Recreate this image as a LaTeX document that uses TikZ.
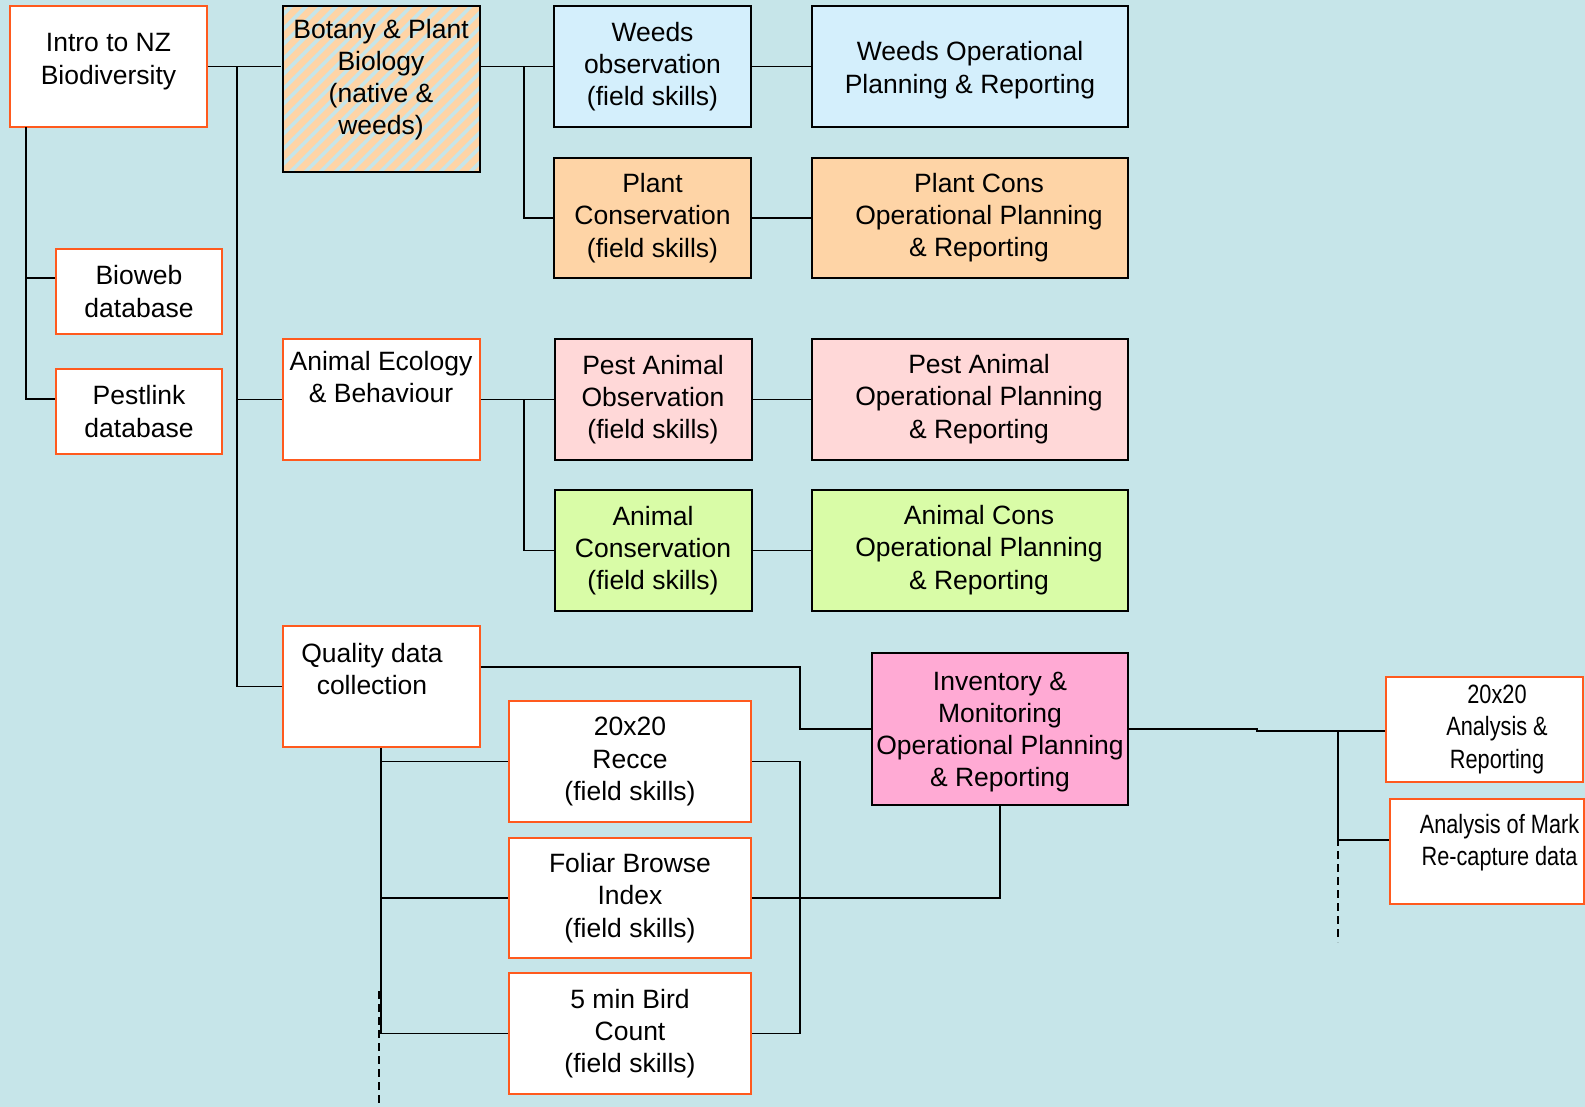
\documentclass[tikz,border=0pt]{standalone}
\usepackage{fontspec}
\setmainfont{Liberation Sans}
\newfontfamily\narrowfont[FakeStretch=0.82]{Liberation Sans}
\usetikzlibrary{patterns.meta}

\definecolor{backdrop}{HTML}{C6E5E9}
\definecolor{edgeorange}{HTML}{FF5A1E}
\definecolor{weedsfill}{HTML}{D4EFFC}
\definecolor{plantfill}{HTML}{FED4A6}
\definecolor{pestfill}{HTML}{FFD8D8}
\definecolor{animalfill}{HTML}{D9FCA7}
\definecolor{inventoryfill}{HTML}{FFAAD4}

% left pad, right pad, extra top, extra bottom, text
\newcommand{\placed}[5]{\begin{tabular}{@{\hspace{#1}}c@{\hspace{#2}}}%
  \rule{0pt}{\dimexpr\ht\strutbox+#3\relax}#5\\[#4]\end{tabular}}

\begin{document}
\begin{tikzpicture}[x=0.5pt, y=-0.5pt]
      \tikzstyle{box} = [
        rectangle,
        draw,
        line width=1pt,
        align=center,
        inner sep=0pt,
        minimum width=98.5pt,
        minimum height=60.5pt,
        font=\fontsize{13.25}{16.15}\selectfont
      ]

      \tikzstyle{plain} = [
        box,
        draw=edgeorange,
        fill=white
      ]

      \tikzstyle{narrow} = [
        plain,
        minimum height=52.5pt,
        font=\narrowfont\fontsize{13.25}{16.15}\selectfont
      ]

      \tikzstyle{hatched} = [
        box,
        preaction={fill=plantfill},
        pattern={Lines[angle=45, distance=5.3pt, line width=1.8pt]},
        pattern color=backdrop
      ]

      \tikzstyle{weeds} = [box, fill=weedsfill]
      \tikzstyle{plant} = [box, fill=plantfill]
      \tikzstyle{pest} = [box, fill=pestfill]
      \tikzstyle{animal} = [box, fill=animalfill]

      \tikzstyle{inventory} = [
        box,
        fill=inventoryfill,
        minimum width=128pt,
        minimum height=76pt
      ]

      \tikzstyle{link} = [line width=0.75pt]
      \tikzstyle{loose} = [link, dash pattern=on 4pt off 2.5pt]

      \useasboundingbox (0,0) rectangle (1585,1107);
      \fill[backdrop] (0,0) rectangle (1585,1107);

      \node[plain] (intro) at (108.5,66.5) {\placed{0pt}{0pt}{0pt}{5pt}{Intro to NZ\\Biodiversity}};
      \node[hatched, minimum height=83pt] (botany) at (381,89)
        {\placed{0pt}{0pt}{0pt}{9pt}{Botany \& Plant\\Biology\\(native \&\\weeds)}};
      \node[weeds] (weedsobs) at (652.5,66.5) {Weeds\\observation\\(field skills)};
      \node[weeds, minimum width=158pt] (weedsops) at (970,66.5)
        {\placed{0pt}{0pt}{4pt}{0pt}{Weeds Operational\\Planning \& Reporting}};
      \node[plant, minimum height=60pt] (plantcons) at (652.5,218)
        {Plant\\Conservation\\(field skills)};
      \node[plant, minimum width=158pt, minimum height=60pt] (plantops) at (970,218)
        {\placed{9pt}{0pt}{0pt}{0pt}{Plant Cons\\Operational Planning\\\& Reporting}};
      \node[plain, minimum width=83pt, minimum height=42.5pt] (bioweb) at (139,291.5)
        {Bioweb\\database};
      \node[plain, minimum width=83pt, minimum height=42.5pt] (pestlink) at (139,411.5)
        {Pestlink\\database};
      \node[plain] (ecology) at (381,399.5)
        {\placed{0pt}{0pt}{0pt}{19.5pt}{Animal Ecology\\\& Behaviour}};
      \node[pest] (pestobs) at (653,399.5) {Pest Animal\\Observation\\(field skills)};
      \node[pest, minimum width=158pt] (pestops) at (970,399.5)
        {\placed{9pt}{0pt}{0pt}{0pt}{Pest Animal\\Operational Planning\\\& Reporting}};
      \node[animal] (animcons) at (653,550.5) {Animal\\Conservation\\(field skills)};
      \node[animal, minimum width=158pt] (animops) at (970,550.5)
        {\placed{9pt}{0pt}{0pt}{0pt}{Animal Cons\\Operational Planning\\\& Reporting}};
      \node[plain] (quality) at (381,686.5)
        {\placed{0pt}{9pt}{0pt}{14.5pt}{Quality data\\collection}};
      \node[plain, minimum width=121pt] (recce) at (630,761.5) {20x20\\Recce\\(field skills)};
      \node[plain, minimum width=121pt, minimum height=60pt] (foliar) at (630,898)
        {Foliar Browse\\Index\\(field skills)};
      \node[plain, minimum width=121pt] (bird) at (630,1033.5) {5 min Bird\\Count\\(field skills)};
      \node[inventory] (inventory) at (1000,729)
        {\placed{0pt}{0pt}{3pt}{0pt}{Inventory \&\\Monitoring\\Operational Planning\\\& Reporting}};
      \node[narrow] (analysis) at (1484.5,729.5)
        {\placed{12.5pt}{0pt}{0pt}{0pt}{20x20\\Analysis \&\\Reporting}};
      \node[narrow, minimum width=97pt] (recapture) at (1487,851.5)
        {\placed{12.5pt}{0pt}{0pt}{8.5pt}{Analysis of Mark\\Re-capture data}};

      \coordinate (trunk) at (237,66.5);
      \coordinate (dbtrunk) at (26,127);
      \coordinate (botfork) at (524,66.5);
      \coordinate (ecofork) at (524,399.5);
      \coordinate (qualbend) at (800,667);
      \coordinate (reportbend) at (1257,729);
      \coordinate (reportfork) at (1338,731);
      \coordinate (looseleft) at (379,991);
      \coordinate (looseleftend) at (379,1107);
      \coordinate (looseright) at (1338,825);
      \coordinate (looserightend) at (1338,942);

      \draw[link] (intro.east) -- (intro.east -| botany.west);
      \draw[link] (trunk) |- (quality.west);
      \draw[link] (trunk |- ecology.west) -- (ecology.west);
      \draw[link] (dbtrunk) |- ([yshift=6.25pt]pestlink.west);
      \draw[link] ([yshift=6.75pt]bioweb.west) -- ++(-30,0);
      \draw[link] (botany.east |- weedsobs.west) -- (weedsobs.west);
      \draw[link] (botfork) |- (plantcons.west);
      \draw[link] (weedsobs.east) -- (weedsops.west);
      \draw[link] (plantcons.east) -- (plantops.west);
      \draw[link] (ecology.east) -- (pestobs.west);
      \draw[link] (ecofork) |- (animcons.west);
      \draw[link] (pestobs.east) -- (pestops.west);
      \draw[link] (animcons.east) -- (animops.west);
      \draw[link] (quality.east |- qualbend) -- (qualbend) |- (inventory.west);
      \draw[link] (quality.south) |- (bird.west);
      \draw[link] (quality.south |- recce.west) -- (recce.west);
      \draw[link] (quality.south |- foliar.west) -- (foliar.west);
      \draw[link] (recce.east) -- (recce.east -| qualbend) |- (bird.east);
      \draw[link] (foliar.east) -| (inventory.south);
      \draw[link] (inventory.east) -- (reportbend) -- ++(0,2) -- (analysis.west |- reportfork);
      \draw[link] (reportfork) |- ([yshift=5.75pt]recapture.west);
      \draw[loose] (looseleft) -- (looseleftend);
      \draw[loose] (looseright) -- (looserightend);
    \end{tikzpicture}
\end{document}
